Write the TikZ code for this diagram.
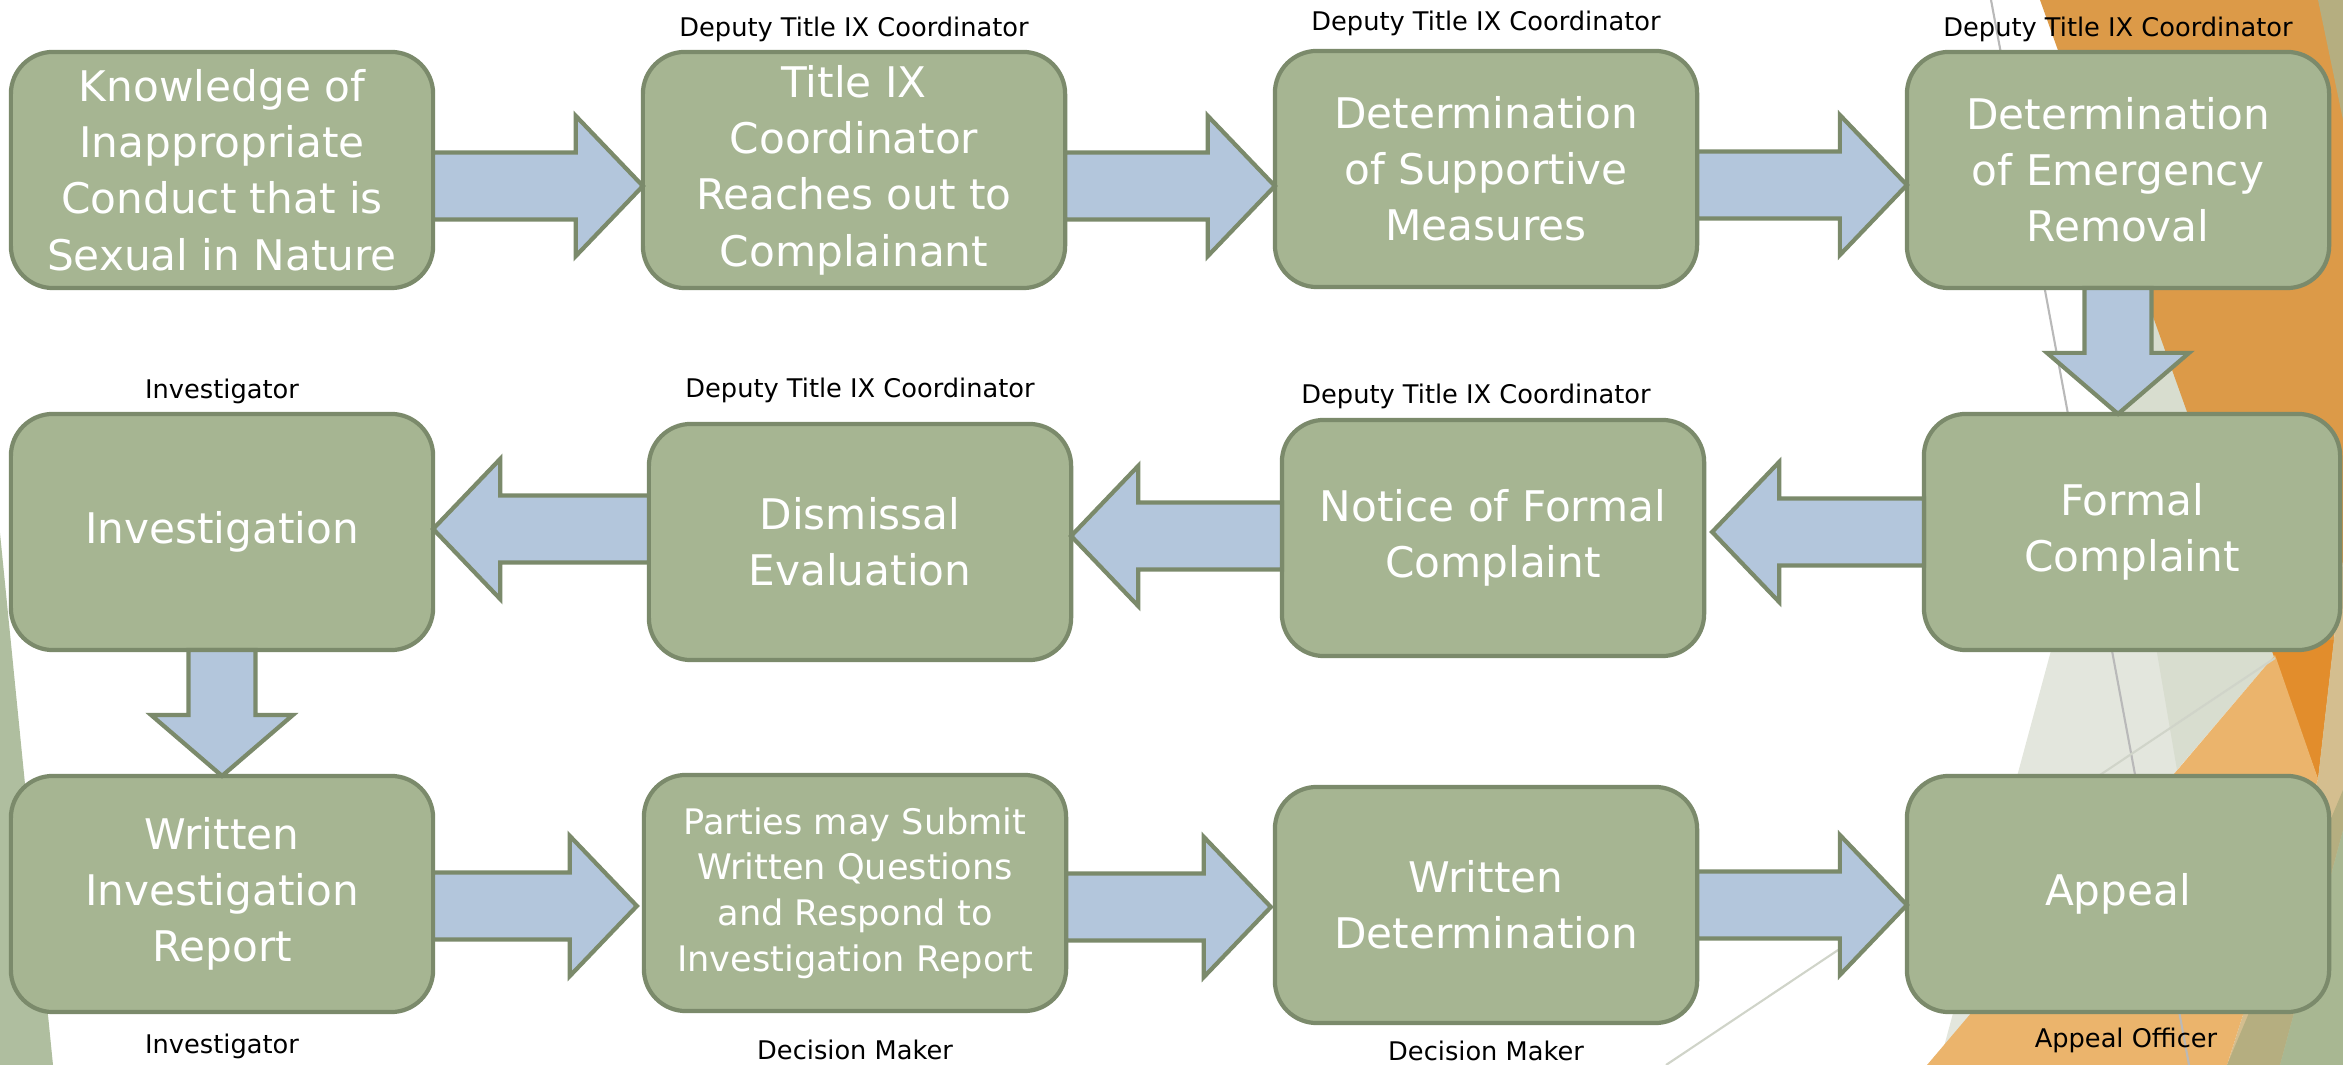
\documentclass[tikz,border=0pt]{standalone}
\usepackage{fontspec}
\setmainfont{DejaVu Sans}
\usetikzlibrary{positioning,calc}
\definecolor{boxfill}{RGB}{166,181,146}
\definecolor{boxline}{RGB}{123,138,107}
\definecolor{arrowfill}{RGB}{179,198,220}
\definecolor{facetgray}{RGB}{227,230,221}
\definecolor{facetgreen}{RGB}{216,221,207}
\definecolor{facetline}{RGB}{208,212,201}
\definecolor{orangetop}{RGB}{220,154,72}
\definecolor{orangedeep}{RGB}{226,141,44}
\definecolor{orangelight}{RGB}{235,180,108}
\definecolor{tanstrip}{RGB}{212,190,143}
\definecolor{khaki}{RGB}{181,174,128}
\definecolor{sage}{RGB}{168,183,146}
\definecolor{sageleft}{RGB}{175,190,159}

\begin{document}
\begin{tikzpicture}[x=0.01cm, y=-0.01cm]

\tikzstyle{s1} = [rectangle, rounded corners=0.42cm, minimum width=4.22cm, minimum height=2.36cm, outer sep=0pt, align=center, draw=boxline, line width=1.2pt, fill=boxfill, text=white, font=\fontsize{12}{16}\selectfont]

\tikzstyle{s2} = [s1, font=\fontsize{10}{13}\selectfont]

\tikzstyle{lab} = [inner sep=0pt, text=black, font=\fontsize{7.3}{9}\selectfont]

\tikzstyle{ra} = [draw=boxline, fill=arrowfill, line width=1.2pt, to path={let \p1=(\tikztostart), \p2=(\tikztotarget) in (\x1,\y1+0.335cm) -- (\x2-0.67cm,\y1+0.335cm) -- (\x2-0.67cm,\y1+0.7cm) -- (\x2,\y1) -- (\x2-0.67cm,\y1-0.7cm) -- (\x2-0.67cm,\y1-0.335cm) -- (\x1,\y1-0.335cm) -- cycle}]

\tikzstyle{la} = [draw=boxline, fill=arrowfill, line width=1.2pt, to path={let \p1=(\tikztostart), \p2=(\tikztotarget) in (\x1,\y1+0.335cm) -- (\x2+0.67cm,\y1+0.335cm) -- (\x2+0.67cm,\y1+0.7cm) -- (\x2,\y1) -- (\x2+0.67cm,\y1-0.7cm) -- (\x2+0.67cm,\y1-0.335cm) -- (\x1,\y1-0.335cm) -- cycle}]

\tikzstyle{da} = [draw=boxline, fill=arrowfill, line width=1.2pt, to path={let \p1=(\tikztostart), \p2=(\tikztotarget) in (\x1-0.335cm,\y1) -- (\x1-0.335cm,\y2+0.61cm) -- (\x1-0.71cm,\y2+0.61cm) -- (\x1,\y2) -- (\x1+0.71cm,\y2+0.61cm) -- (\x1+0.335cm,\y2+0.61cm) -- (\x1+0.335cm,\y1) -- cycle}]

    \useasboundingbox (0,0) rectangle (2343,1065);

    \fill [sageleft] (0,533) -- (53,1065) -- (0,1065) -- cycle;
    \fill [facetgray] (2116,410) -- (2200,900) -- (2000,1065) -- (1939,1065) -- cycle;
    \fill [facetgreen] (2095,290) -- (2144,290) -- (2275,655) -- (2177,770) -- cycle;
    \fill [orangetop] (2040,0) -- (2343,0) -- (2343,560) -- (2318,779) -- cycle;
    \fill [khaki] (2318,0) -- (2343,0) -- (2343,120) -- cycle;
    \fill [orangedeep] (2268,640) -- (2334,640) -- (2318,779) -- cycle;
    \fill [tanstrip] (2343,560) -- (2318,779) -- (2227,1065) -- (2343,1065) -- cycle;
    \fill [orangelight] (1927,1065) -- (2275,655) -- (2318,779) -- (2227,1065) -- cycle;
    \fill [khaki] (2227,1065) -- (2280,1065) -- (2343,830) -- (2343,790) -- cycle;
    \fill [sage] (2280,1065) -- (2343,830) -- (2343,1065) -- cycle;
    \draw [gray!55, line width=0.6pt] (1991,0) -- (2189,1065);
    \draw [facetline, line width=0.6pt] (2275,658) -- (1666,1065);

    \node [s1] (K) at (222,170) {Knowledge of\\Inappropriate\\Conduct that is\\Sexual in Nature};
    \path (K) ++(632,0) node [s1] (T) {Title IX\\Coordinator\\Reaches out to\\Complainant};
    \path (T) ++(632,-1) node [s1] (S) {Determination\\of Supportive\\Measures};
    \path (S) ++(632,1) node [s1] (E) {Determination\\of Emergency\\Removal};
    \path (E) ++(14,362) node [s1, minimum width=4.16cm] (F) {Formal\\Complaint};
    \path (F) ++(-639,6) node [s1] (N) {Notice of Formal\\Complaint};
    \path (N) ++(-633,4) node [s1] (D) {Dismissal\\Evaluation};
    \path (D) ++(-638,-10) node [s1] (I) {Investigation};
    \path (I) ++(0,362) node [s1] (W) {Written\\Investigation\\Report};
    \path (W) ++(633,-1) node [s2] (P) {Parties may Submit\\Written Questions\\and Respond to\\Investigation Report};
    \path (P) ++(631,12) node [s1] (R) {Written\\Determination};
    \path (R) ++(632,-11) node [s1] (A) {Appeal};

    \node [lab, above=0.09cm of T] (lT) {Deputy Title IX Coordinator};
    \node [lab, above=0.14cm of S] (lS) {Deputy Title IX Coordinator};
    \node [lab, above=0.09cm of E] (lE) {Deputy Title IX Coordinator};
    \node [lab, above=0.09cm of I] (lI) {Investigator};
    \node [lab, above=0.2cm of D] (lD) {Deputy Title IX Coordinator};
    \node [lab, above=0.1cm of N, xshift=-0.17cm] (lN) {Deputy Title IX Coordinator};
    \node [lab, below=0.21cm of W] (lW) {Investigator};
    \node [lab, below=0.28cm of P] (lP) {Decision Maker};
    \node [lab, below=0.17cm of R] (lR) {Decision Maker};
    \node [lab, below=0.15cm of A, xshift=0.08cm] (lA) {Appeal Officer};

    \draw [ra] ([yshift=-0.16cm]K.east) to (T.west);
    \draw [ra] ([yshift=-0.16cm]T.east) to (S.west);
    \draw [ra] ([yshift=-0.16cm]S.east) to (E.west);
    \draw [da] (E.south) to (F.north);
    \draw [la] (F.west) to ([xshift=0.08cm]N.east);
    \draw [la] ([yshift=0.02cm]N.west) to (D.east);
    \draw [la] ([yshift=0.13cm]D.west) to (I.east);
    \draw [da] (I.south) to (W.north);
    \draw [ra] ([yshift=-0.12cm]W.east) to ([xshift=-0.07cm]P.west);
    \draw [ra] ([yshift=-0.14cm]P.east) to ([xshift=-0.04cm]R.west);
    \draw [ra] (R.east) to (A.west);

\end{tikzpicture}
\end{document}
